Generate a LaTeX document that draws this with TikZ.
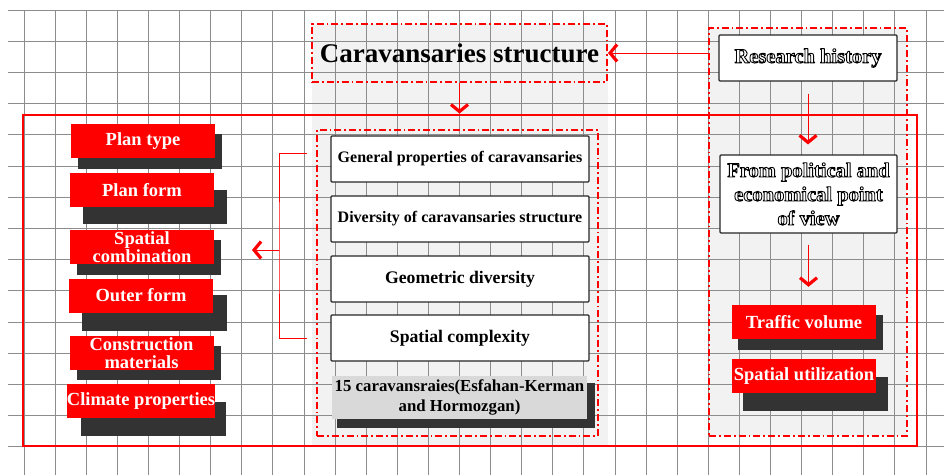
\documentclass[tikz,border=0pt]{standalone}
\usepackage{fontspec}
\setmainfont{Liberation Serif}
\usetikzlibrary{arrows.meta}
\definecolor{shad}{HTML}{333333}
\definecolor{panel}{HTML}{F2F2F2}
\definecolor{boxgray}{HTML}{D9D9D9}
\definecolor{gridc}{HTML}{8C8C8C}
\newcommand\olt[1]{{\color{white}\special{pdf:literal 0 G 0.9 w 1 j 2 Tr}#1\special{pdf:literal 0 Tr}}}
\begin{document}
\begin{tikzpicture}[x=1pt,y=-1pt,
  redbox/.style={fill=red,text=white,font=\fontsize{18.5}{16}\selectfont\bfseries,minimum width=144pt,minimum height=34pt,inner sep=0pt,align=center},
  whitebox/.style={draw=black!85,line width=1.1pt,fill=white,rounded corners=1pt,minimum width=258pt,minimum height=46pt,inner sep=0pt,align=center},
  outlbox/.style={draw=black!85,line width=1.1pt,fill=white,rounded corners=1pt,inner sep=0pt,align=center,font=\fontsize{20.5}{24}\selectfont\bfseries},
  dashdot/.style={draw=red,line width=2pt,dash pattern=on 7pt off 3pt on 1.8pt off 3pt},
  panelbox/.style={fill=panel,inner sep=0pt},
  shadowbox/.style={fill=shad},
  arr/.style={draw=red,line width=1pt,-{Straight Barb[length=7pt,width=17pt,line width=3.2pt]}},
  brk/.style={draw=red,line width=0.8pt}]
\useasboundingbox (0,0) rectangle (944,475);
\fill[white] (0,0) rectangle (944,475);
% panels
\node[panelbox,minimum width=296pt,minimum height=423pt] (cpanel) at (460,235.5) {};
\node[panelbox,minimum width=198pt,minimum height=408pt] (rpanel) at (808,232) {};
% grid
\foreach \i in {0,...,29} \draw[gridc,line width=0.8pt] (24+31.1*\i,10) -- (24+31.1*\i,475);
\foreach \j in {0,...,14} \draw[gridc,line width=0.8pt] (8,10+31.2*\j) -- (944,10+31.2*\j);
% outer frame
\node[draw=red,line width=2.8pt,minimum width=894pt,minimum height=331pt,inner sep=0pt] (outer) at (470,280.5) {};
% dashed boxes
\node[dashdot,minimum width=198pt,minimum height=408pt,inner sep=0pt,line width=1.6pt] (rframe) at (808,232) {};
\node[dashdot,minimum width=281pt,minimum height=306pt,inner sep=0pt] (inner) at (457.5,283) {};
\node[dashdot,minimum width=295pt,minimum height=58pt,inner sep=0pt,font=\fontsize{27}{30}\selectfont\bfseries] (title) at (459.5,53) {Caravansaries structure};
% shadows
\fill[shadowbox] (78,134) rectangle (222,169);
\fill[shadowbox] (83,190) rectangle (227,224);
\fill[shadowbox] (77,240) rectangle (221,275);
\fill[shadowbox] (82,295) rectangle (227,331);
\fill[shadowbox] (77,346) rectangle (221,380);
\fill[shadowbox] (81,402) rectangle (226,436);
\fill[shadowbox] (337,383) rectangle (595,428);
\fill[shadowbox] (738,315) rectangle (883,350);
\fill[shadowbox] (743,377) rectangle (888,411);
% left red boxes
\node[redbox] (pt) at (143,141) {Plan type};
\node[redbox] (pf) at (142,190) {Plan form};
\node[redbox] (sc) at (142,247) {Spatial\\combination};
\node[redbox] (of) at (141,295.5) {Outer form};
\node[redbox,font=\fontsize{18.5}{17.5}\selectfont\bfseries] (cm) at (141.5,353) {Construction\\materials};
\node[redbox] (cp) at (141,401) {Climate properties};
% middle boxes
\node[whitebox,font=\fontsize{16}{19}\selectfont\bfseries] (b1) at (460,159) {General properties of caravansaries};
\node[whitebox,font=\fontsize{16}{19}\selectfont\bfseries] (b2) at (460,219) {Diversity of caravansaries structure};
\node[whitebox,font=\fontsize{17.7}{20}\selectfont\bfseries] (b3) at (460,279) {Geometric diversity};
\node[whitebox,font=\fontsize{17.7}{20}\selectfont\bfseries] (b4) at (460,338) {Spatial complexity};
\node[fill=boxgray,minimum width=255pt,minimum height=43pt,inner sep=0pt,align=center,font=\fontsize{16.8}{20}\selectfont\bfseries] (b5) at (459.5,397.5) {15 caravansraies(Esfahan-Kerman\\and Hormozgan)};
% right column
\node[outlbox,minimum width=178pt,minimum height=46pt] (rh) at (808,58) {\olt{Research history}};
\node[outlbox,minimum width=177pt,minimum height=78pt] (fp) at (808.5,194) {\olt{From political and}\\\olt{economical point}\\\olt{of view}};
\node[redbox] (tv) at (804,322) {Traffic volume};
\node[redbox] (su) at (804,376) {Spatial utilization};
% connectors
\draw[arr] (rframe.west |- title.east) -- (title.east);
\draw[arr] (title.south) -- (title.south |- outer.north);
\draw[arr,shorten <=12pt,shorten >=10pt] (rh.south) -- (rh.south |- fp.north);
\draw[arr,shorten <=11pt,shorten >=18pt] (fp.south) -- (fp.south |- tv.north);
\coordinate (bra) at (307,153);
\coordinate (brb) at (307,338);
\coordinate (brm) at (279,250);
\coordinate (brt) at (252,250);
\draw[brk] (bra) -| (brm) |- (brb);
\draw[arr] (brm) -- (brt);
\end{tikzpicture}
\end{document}
